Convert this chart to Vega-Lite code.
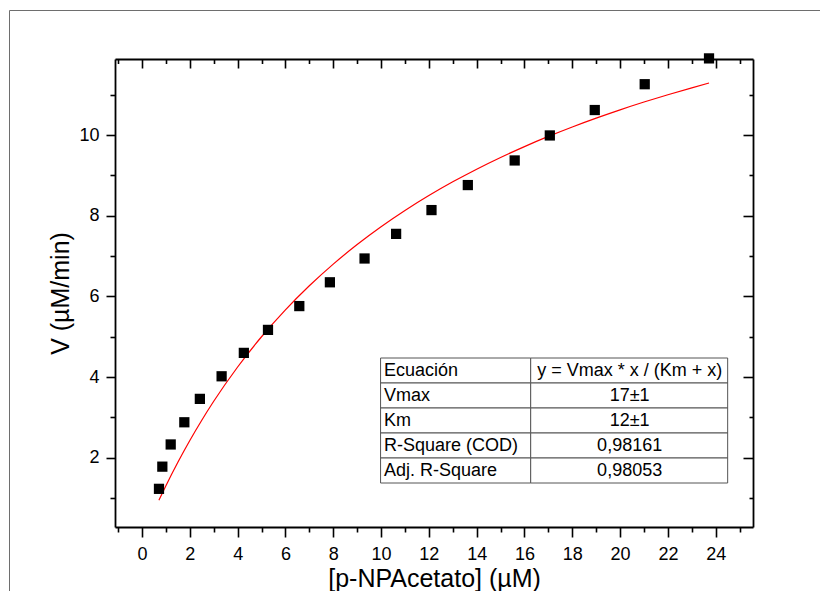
{
  "$schema": "https://vega.github.io/schema/vega-lite/v6.json",
  "width": 811,
  "height": 581,
  "autosize": {"type": "none"},
  "padding": {"left": 9, "top": 10, "right": 0, "bottom": 0},
  "background": "white",
  "config": {
    "view": {"stroke": null},
    "font": "Liberation Sans",
    "axis": {
      "labelFont": "Liberation Sans",
      "labelFontSize": 18,
      "labelColor": "black",
      "titleFont": "Liberation Sans",
      "titleFontSize": 25,
      "titleFontWeight": "normal",
      "titleColor": "black",
      "domainColor": "black",
      "domainWidth": 1.8,
      "tickColor": "black",
      "tickWidth": 1.6,
      "grid": false,
      "labelOverlap": false,
      "labelBound": false,
      "labelFlush": false
    }
  },
  "datasets": {
    "points": [
      {"conc": 0.71, "v": 1.23},
      {"conc": 0.85, "v": 1.78},
      {"conc": 1.20, "v": 2.33},
      {"conc": 1.77, "v": 2.88},
      {"conc": 2.42, "v": 3.46},
      {"conc": 3.33, "v": 4.02},
      {"conc": 4.26, "v": 4.60},
      {"conc": 5.27, "v": 5.17},
      {"conc": 6.58, "v": 5.76},
      {"conc": 7.86, "v": 6.35},
      {"conc": 9.31, "v": 6.94},
      {"conc": 10.63, "v": 7.55},
      {"conc": 12.11, "v": 8.14},
      {"conc": 13.63, "v": 8.76},
      {"conc": 15.59, "v": 9.37},
      {"conc": 17.06, "v": 9.99},
      {"conc": 18.94, "v": 10.62},
      {"conc": 21.03, "v": 11.26},
      {"conc": 23.72, "v": 11.90}
    ],
    "fit": [
      {"x": 0.71, "y": 0.950},
      {"x": 1, "y": 1.308},
      {"x": 1.5, "y": 1.889},
      {"x": 2, "y": 2.429},
      {"x": 2.5, "y": 2.931},
      {"x": 3, "y": 3.400},
      {"x": 4, "y": 4.250},
      {"x": 5, "y": 5.000},
      {"x": 6, "y": 5.667},
      {"x": 7, "y": 6.263},
      {"x": 8, "y": 6.800},
      {"x": 9, "y": 7.286},
      {"x": 10, "y": 7.727},
      {"x": 11, "y": 8.130},
      {"x": 12, "y": 8.500},
      {"x": 13, "y": 8.840},
      {"x": 14, "y": 9.154},
      {"x": 15, "y": 9.444},
      {"x": 16, "y": 9.714},
      {"x": 17, "y": 9.966},
      {"x": 18, "y": 10.200},
      {"x": 19, "y": 10.419},
      {"x": 20, "y": 10.625},
      {"x": 21, "y": 10.818},
      {"x": 22, "y": 11.000},
      {"x": 23, "y": 11.171},
      {"x": 23.72, "y": 11.289}
    ],
    "table": [
      {"row": 0, "label": "Ecuación", "value": "y = Vmax * x / (Km + x)"},
      {"row": 1, "label": "Vmax", "value": "17±1"},
      {"row": 2, "label": "Km", "value": "12±1"},
      {"row": 3, "label": "R-Square (COD)", "value": "0,98161"},
      {"row": 4, "label": "Adj. R-Square", "value": "0,98053"}
    ]
  },
  "resolve": {
    "scale": {"x": "independent", "y": "independent"},
    "axis": {"x": "independent", "y": "independent"}
  },
  "layer": [
    {
      "data": {"name": "points"},
      "mark": {"type": "point", "opacity": 0},
      "encoding": {
        "x": {"field": "conc", "type": "quantitative",
          "scale": {"domain": [0, 1], "range": [0, 811], "nice": false, "zero": false},
          "axis": {"orient": "top", "offset": 0, "domain": true, "domainColor": "#6e6e6e", "domainWidth": 1, "ticks": false, "labels": false, "title": null}},
        "y": {"field": "v", "type": "quantitative",
          "scale": {"domain": [0, 1], "range": [0, 581], "nice": false, "zero": false},
          "axis": {"orient": "left", "offset": 0, "domain": true, "domainColor": "#6e6e6e", "domainWidth": 1, "ticks": false, "labels": false, "title": null}}
      }
    },
    {
      "data": {"name": "table"},
      "mark": {"type": "rect", "fill": "white", "stroke": "#555555", "strokeWidth": 1},
      "encoding": {
        "x": {"datum": 9.98, "type": "quantitative",
          "scale": {"domain": [-1.13, 25.56], "range": [106, 744], "nice": false, "zero": false}, "axis": null},
        "x2": {"datum": 16.26},
        "y": {"field": "row", "type": "ordinal",
          "scale": {"type": "band", "domain": [0, 1, 2, 3, 4], "range": [348, 473], "paddingInner": 0, "paddingOuter": 0}, "axis": null}
      }
    },
    {
      "data": {"name": "table"},
      "mark": {"type": "rect", "fill": "white", "stroke": "#555555", "strokeWidth": 1},
      "encoding": {
        "x": {"datum": 16.26, "type": "quantitative",
          "scale": {"domain": [-1.13, 25.56], "range": [106, 744], "nice": false, "zero": false}, "axis": null},
        "x2": {"datum": 24.5},
        "y": {"field": "row", "type": "ordinal",
          "scale": {"type": "band", "domain": [0, 1, 2, 3, 4], "range": [348, 473], "paddingInner": 0, "paddingOuter": 0}, "axis": null}
      }
    },
    {
      "data": {"name": "table"},
      "mark": {"type": "text", "align": "left", "baseline": "middle", "font": "Liberation Sans", "fontSize": 18, "color": "black"},
      "encoding": {
        "x": {"datum": 10.12, "type": "quantitative",
          "scale": {"domain": [-1.13, 25.56], "range": [106, 744], "nice": false, "zero": false}, "axis": null},
        "y": {"field": "row", "type": "ordinal",
          "scale": {"type": "band", "domain": [0, 1, 2, 3, 4], "range": [348, 473], "paddingInner": 0, "paddingOuter": 0}, "axis": null},
        "text": {"field": "label"}
      }
    },
    {
      "data": {"name": "table"},
      "mark": {"type": "text", "align": "center", "baseline": "middle", "font": "Liberation Sans", "fontSize": 18, "color": "black"},
      "encoding": {
        "x": {"datum": 20.4, "type": "quantitative",
          "scale": {"domain": [-1.13, 25.56], "range": [106, 744], "nice": false, "zero": false}, "axis": null},
        "y": {"field": "row", "type": "ordinal",
          "scale": {"type": "band", "domain": [0, 1, 2, 3, 4], "range": [348, 473], "paddingInner": 0, "paddingOuter": 0}, "axis": null},
        "text": {"field": "value"}
      }
    },
    {
      "data": {"name": "fit"},
      "mark": {"type": "line", "color": "#ff0000", "strokeWidth": 1.2, "interpolate": "monotone"},
      "encoding": {
        "x": {"field": "x", "type": "quantitative",
          "scale": {"domain": [-1.13, 25.56], "range": [106, 744], "nice": false, "zero": false},
          "axis": {"orient": "top", "offset": -49, "values": [-1,0,1,2,3,4,5,6,7,8,9,10,11,12,13,14,15,16,17,18,19,20,21,22,23,24,25],
            "labels": false, "title": null,
            "tickSize": {"condition": {"test": "datum.value % 2 !== 0", "value": -4.5}, "value": -9}}},
        "y": {"field": "y", "type": "quantitative",
          "scale": {"domain": [0.284, 11.885], "range": [517, 49], "nice": false, "zero": false},
          "axis": {"orient": "right", "offset": -67, "values": [1,2,3,4,5,6,7,8,9,10,11],
            "labels": false, "title": null,
            "tickSize": {"condition": {"test": "datum.value % 2 !== 0", "value": -4}, "value": -10}}}
      }
    },
    {
      "data": {"name": "points"},
      "mark": {"type": "point", "shape": "square", "filled": true, "color": "black", "opacity": 1, "size": 105},
      "encoding": {
        "x": {"field": "conc", "type": "quantitative",
          "scale": {"domain": [-1.13, 25.56], "range": [106, 744], "nice": false, "zero": false},
          "axis": {"orient": "bottom", "offset": -64, "values": [-1,0,1,2,3,4,5,6,7,8,9,10,11,12,13,14,15,16,17,18,19,20,21,22,23,24,25],
            "labelExpr": "datum.value % 2 === 0 ? datum.label : ''",
            "labelBaseline": "alphabetic", "labelPadding": 22,
            "tickSize": {"condition": {"test": "datum.value % 2 !== 0", "value": 5}, "value": 10},
            "title": "[p-NPAcetato] (µM)", "titleY": 59, "titleBaseline": "alphabetic"}},
        "y": {"field": "v", "type": "quantitative",
          "scale": {"domain": [0.284, 11.885], "range": [517, 49], "nice": false, "zero": false},
          "axis": {"orient": "left", "offset": -106, "values": [1,2,3,4,5,6,7,8,9,10,11],
            "labelExpr": "datum.value % 2 === 0 ? datum.label : ''",
            "labelPadding": 7,
            "tickSize": {"condition": {"test": "datum.value % 2 !== 0", "value": 5}, "value": 9},
            "title": "V (µM/min)", "titleX": -47, "titleBaseline": "alphabetic", "titleAngle": -90}}
      }
    }
  ]
}
